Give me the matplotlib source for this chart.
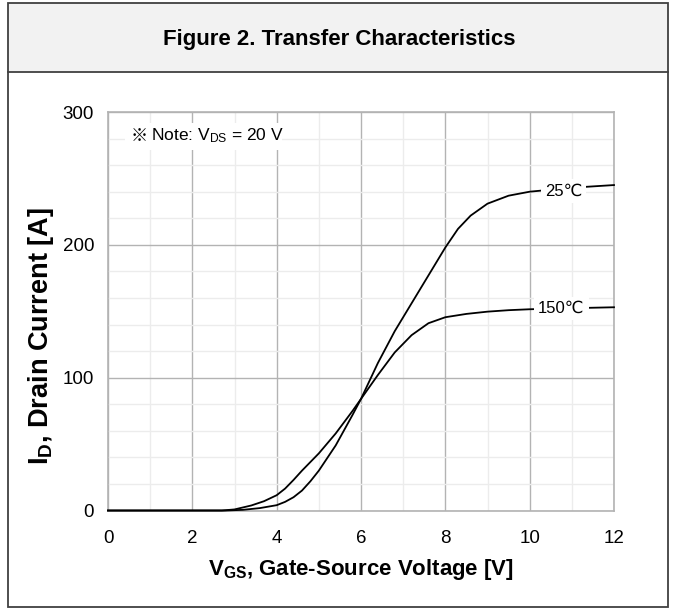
import matplotlib
matplotlib.use("Agg")
import matplotlib.pyplot as plt
from matplotlib.patches import Rectangle
from matplotlib.lines import Line2D

plt.rcParams["font.family"] = ["Liberation Sans", "DejaVu Sans", "Noto Sans CJK JP"]
plt.rcParams["mathtext.fontset"] = "custom"
plt.rcParams["mathtext.rm"] = "Liberation Sans"
plt.rcParams["mathtext.it"] = "Liberation Sans"
plt.rcParams["mathtext.bf"] = "Liberation Sans:bold"

# Transfer characteristics, I_D vs V_GS at V_DS = 20 V
vgs_25 = [0, 1, 2, 2.8, 3.2, 3.6, 4.0, 4.2, 4.4, 4.6, 4.8, 5.0, 5.4, 5.8, 6.0,
          6.4, 6.8, 7.2, 7.6, 8.0, 8.3, 8.6, 9.0, 9.5, 10, 11, 12]
id_25 = [0, 0, 0, 0, 0.5, 1.8, 4, 6.5, 10, 15, 22, 30, 49, 72, 84,
         111, 135, 156, 177, 198, 212, 222, 231, 237, 240, 243, 245]

vgs_150 = [0, 1, 2, 2.7, 3.0, 3.4, 3.7, 4.0, 4.2, 4.4, 4.6, 5.0, 5.4, 5.8, 6.0,
           6.4, 6.8, 7.2, 7.6, 8.0, 8.5, 9.0, 9.5, 10, 11, 12]
id_150 = [0, 0, 0, 0, 0.8, 3.8, 7, 11.5, 16.5, 23, 30, 43, 58, 75, 84,
          102, 119, 132, 141, 145.5, 148, 149.7, 150.8, 151.5, 152.3, 153]

curve_labels = ["25\u2103", "150\u2103"]
label_pos = [(10.8, 240.5), (10.75, 152)]

x_ticks = [0, 2, 4, 6, 8, 10, 12]
y_ticks = [0, 100, 200, 300]

W, H = 676, 610
fig = plt.figure(figsize=(W / 100, H / 100), dpi=100)

def fx(px):
    return px / W

def fy(py):
    return 1 - py / H

# frame and title bar
fig.patches.append(Rectangle((fx(8), fy(72)), fx(660), 69 / H, transform=fig.transFigure,
                             facecolor="#f2f2f2", edgecolor="none", zorder=0))
fig.patches.append(Rectangle((fx(8), fy(607)), fx(660), 604 / H, transform=fig.transFigure,
                             facecolor="none", edgecolor="#404040", linewidth=1.3, zorder=5))
fig.lines.append(Line2D([fx(8), fx(668)], [fy(72), fy(72)], transform=fig.transFigure,
                        color="#404040", linewidth=1.3, zorder=5))
fig.text(fx(339), fy(40), "Figure 2. Transfer Characteristics", ha="center", va="center",
         fontsize=16, fontweight="bold", color="black")

ax = fig.add_axes([fx(108), fy(510.5), fx(506), 398.5 / H])
ax.set_xlim(0, 12)
ax.set_ylim(0, 300)
ax.set_xticks(x_ticks)
ax.set_yticks(y_ticks)
ax.set_xticks(range(0, 13), minor=True)
ax.set_yticks(range(0, 301, 20), minor=True)
ax.grid(True, which="major", color="#b3b3b3", linewidth=1.0)
ax.grid(True, which="minor", color="#ececec", linewidth=1.0)
ax.set_axisbelow(True)
for s in ax.spines.values():
    s.set_color("#b3b3b3")
    s.set_linewidth(1.2)
ax.tick_params(which="both", length=0)
ax.tick_params(axis="x", pad=14, labelsize=13.5)
ax.tick_params(axis="y", pad=10, labelsize=13.5)

ax.plot(vgs_25, id_25, color="black", linewidth=1.3, clip_on=False, zorder=3)
ax.plot(vgs_150, id_150, color="black", linewidth=1.3, clip_on=False, zorder=3)

for txt, (x, y) in zip(curve_labels, label_pos):
    ax.text(x, y, txt, ha="center", va="center", fontsize=12, zorder=4,
            bbox=dict(boxstyle="square,pad=0.25", facecolor="white", edgecolor="none"))

ax.add_patch(Rectangle((0.034, 0.905), 0.31, 0.067, transform=ax.transAxes,
                       facecolor="white", edgecolor="none", zorder=2))
ax.text(0.045, 0.94, "\u203b", transform=ax.transAxes, ha="left", va="center",
        fontsize=12.5, family=["Noto Sans CJK JP", "DejaVu Sans"], zorder=4)
ax.text(0.085, 0.94, r"Note: V$_{\mathrm{DS}}$ = 20 V", transform=ax.transAxes,
        ha="left", va="center", fontsize=12.5, zorder=4)

ax.set_xlabel(r"$\mathbf{V_{GS}}$, Gate-Source Voltage [V]", fontsize=16,
              fontweight="bold", labelpad=7)
ax.set_ylabel(r"$\mathbf{I_{D}}$, Drain Current [A]", fontsize=19.5,
              fontweight="bold")
ax.yaxis.set_label_coords(-0.102, 0.438)

fig.savefig("out.png", dpi=100, facecolor="white")
